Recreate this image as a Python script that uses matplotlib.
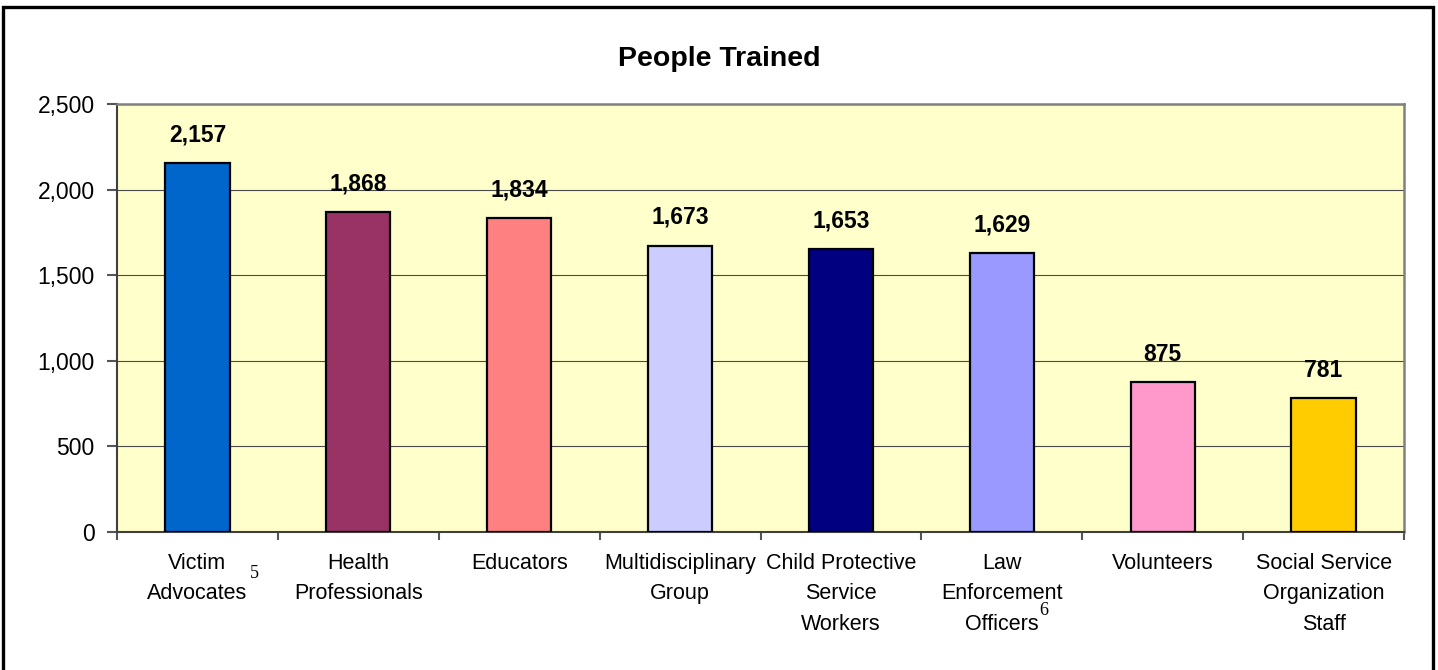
import matplotlib
matplotlib.use("Agg")
import matplotlib.pyplot as plt
from matplotlib.patches import Rectangle
from matplotlib.ticker import FuncFormatter, FixedLocator
import numpy as np

plt.rcParams['font.family'] = ['Liberation Sans', 'DejaVu Sans']

title = "People Trained"
categories = ["Victim\nAdvocates", "Health\nProfessionals", "Educators",
              "Multidisciplinary\nGroup", "Child Protective\nService\nWorkers",
              "Law\nEnforcement\nOfficers", "Volunteers",
              "Social Service\nOrganization\nStaff"]
values = [2157, 1868, 1834, 1673, 1653, 1629, 875, 781]
colors = ["#0066CC", "#993366", "#FF8080", "#CCCCFF", "#000080",
          "#9999FF", "#FF99CC", "#FFCC00"]
footnotes = {0: "5", 5: "6"}
yticks = [0, 500, 1000, 1500, 2000, 2500]

W, H = 1438, 670
fig = plt.figure(figsize=(W / 100, H / 100), dpi=100)
fig.patch.set_facecolor("white")
ax = fig.add_axes([117 / W, 1 - 532 / H, (1404 - 117) / W, (532 - 104) / H])
ax.set_facecolor("#FFFFCC")

x = np.arange(len(values))
ax.bar(x, values, width=0.40, color=colors, edgecolor="black", linewidth=1.6, zorder=3)

ax.set_xlim(-0.5, len(values) - 0.5)
ax.set_ylim(0, 2500)
ax.set_yticks(yticks)
ax.yaxis.set_major_formatter(FuncFormatter(lambda v, p: f"{int(v):,}"))
ax.grid(axis="y", color="#4a4a4a", linewidth=0.8, zorder=1)
ax.set_axisbelow(True)

ax.set_xticks(x)
ax.set_xticklabels(categories, fontsize=15.5, linespacing=1.6, va="top")
ax.tick_params(axis="x", which="major", length=0, pad=15)
ax.xaxis.set_minor_locator(FixedLocator(np.arange(-0.5, len(values), 1.0)))
ax.tick_params(axis="x", which="minor", length=6, width=1.5, color="#555555")
ax.tick_params(axis="y", length=7, width=1.5, color="#555555", labelsize=16.5, pad=9)

for s in ["left", "bottom"]:
    ax.spines[s].set_color("#404040")
    ax.spines[s].set_linewidth(1.5)
for s in ["top", "right"]:
    ax.spines[s].set_color("#808080")
    ax.spines[s].set_linewidth(1.8)

for xi, v in zip(x, values):
    ax.annotate(f"{v:,}", xy=(xi, v), xytext=(0, 12), textcoords="offset points",
                ha="center", va="bottom", fontsize=16.5, fontweight="bold", zorder=4)

# footnote superscripts on category labels
ax.annotate(footnotes[0], xy=(0, 0), xycoords=("data", "axes fraction"),
            xytext=(41, -30), textcoords="offset points", ha="center", va="center",
            fontsize=13, family="Liberation Serif", annotation_clip=False)
ax.annotate(footnotes[5], xy=(5, 0), xycoords=("data", "axes fraction"),
            xytext=(30.5, -56.5), textcoords="offset points", ha="center", va="center",
            fontsize=13, family="Liberation Serif", annotation_clip=False)

fig.text(0.5, 1 - 59 / H, title, ha="center", va="center", fontsize=20.5, fontweight="bold")

fig.patches.append(Rectangle((3 / W, -0.05), 1430 / W, 1.05 - 7 / H,
                             transform=fig.transFigure, fill=False,
                             edgecolor="black", linewidth=2.4, zorder=10))

fig.savefig("out.png", dpi=100, facecolor="white")
